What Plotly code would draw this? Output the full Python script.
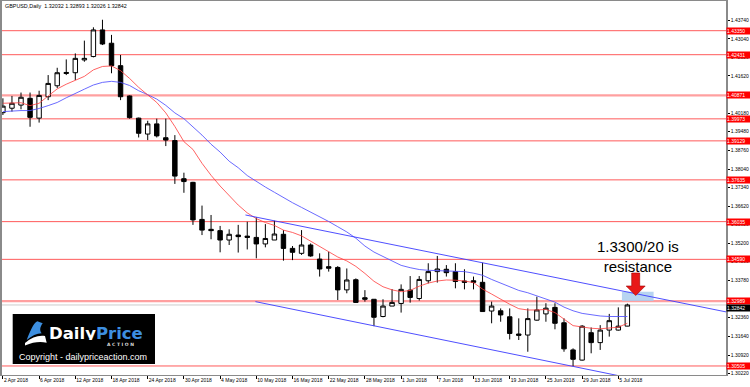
import plotly.graph_objects as go
import pandas as pd

# ---------------- data ----------------
dates = pd.bdate_range("2018-04-02", periods=70)
date_labels = [f"{d.day} {d.strftime('%b %Y')}" for d in dates]

opens = [1.4021, 1.4038, 1.4050, 1.4076, 1.4000, 1.4082, 1.4124, 1.4171, 1.4174, 1.4223,
         1.4236, 1.4338, 1.4287, 1.4201, 1.4085, 1.4000, 1.3939, 1.3978, 1.3925, 1.3914,
         1.3768, 1.3754, 1.3612, 1.3574, 1.3569, 1.3533, 1.3552, 1.3548, 1.3543, 1.3518,
         1.3533, 1.3555, 1.3501, 1.3482, 1.3514, 1.3460, 1.3431, 1.3428, 1.3342, 1.3381,
         1.3312, 1.3306, 1.3240, 1.3280, 1.3290, 1.3341, 1.3309, 1.3377, 1.3412, 1.3421,
         1.3412, 1.3376, 1.3377, 1.3371, 1.3261, 1.3262, 1.3239, 1.3173, 1.3169, 1.3226,
         1.3250, 1.3275, 1.3216, 1.3112, 1.3073, 1.3178, 1.3140, 1.3188, 1.3188, 1.32032]
highs = [1.4076, 1.4085, 1.4098, 1.4098, 1.4105, 1.4165, 1.4193, 1.4225, 1.4248, 1.4297,
         1.4348, 1.4377, 1.4319, 1.4242, 1.4087, 1.4002, 1.3990, 1.3998, 1.3998, 1.3935,
         1.3791, 1.3756, 1.3665, 1.3629, 1.3587, 1.3574, 1.3591, 1.3603, 1.3620, 1.3594,
         1.3607, 1.3571, 1.3510, 1.3571, 1.3520, 1.3482, 1.3488, 1.3433, 1.3424, 1.3386,
         1.3341, 1.3306, 1.3306, 1.3345, 1.3363, 1.3395, 1.3395, 1.3444, 1.3472, 1.3437,
         1.3444, 1.3421, 1.3393, 1.3446, 1.3297, 1.3271, 1.3271, 1.3233, 1.3271, 1.3316,
         1.3291, 1.3291, 1.3233, 1.3118, 1.3207, 1.3198, 1.3207, 1.3250, 1.3275, 1.32893]
lows = [1.4012, 1.4025, 1.4034, 1.3967, 1.3983, 1.4069, 1.4115, 1.4165, 1.4146, 1.4216,
        1.4233, 1.4280, 1.4172, 1.4069, 1.3998, 1.3926, 1.3916, 1.3926, 1.3893, 1.3748,
        1.3714, 1.3591, 1.3552, 1.3536, 1.3486, 1.3514, 1.3485, 1.3497, 1.3463, 1.3505,
        1.3533, 1.3454, 1.3456, 1.3476, 1.3469, 1.3393, 1.3412, 1.3303, 1.3329, 1.3292,
        1.3297, 1.3203, 1.3237, 1.3280, 1.3255, 1.3293, 1.3301, 1.3367, 1.3370, 1.3393,
        1.3348, 1.3344, 1.3344, 1.3259, 1.3214, 1.3220, 1.3152, 1.3150, 1.3105, 1.3224,
        1.3220, 1.3191, 1.3105, 1.3050, 1.3071, 1.3099, 1.3112, 1.3163, 1.3186, 1.32026]
closes = [1.4046, 1.4057, 1.4080, 1.4003, 1.4087, 1.4133, 1.4174, 1.4175, 1.4229, 1.4229,
          1.4338, 1.4284, 1.4201, 1.4082, 1.4002, 1.3942, 1.3978, 1.3932, 1.3916, 1.3778,
          1.3757, 1.3610, 1.3571, 1.3569, 1.3533, 1.3555, 1.3546, 1.3543, 1.3518, 1.3539,
          1.3556, 1.3501, 1.3486, 1.3514, 1.3472, 1.3422, 1.3425, 1.3342, 1.3380, 1.3294,
          1.3306, 1.3237, 1.3280, 1.3294, 1.3344, 1.3313, 1.3382, 1.3412, 1.3422, 1.3408,
          1.3374, 1.3371, 1.3371, 1.3259, 1.3280, 1.3246, 1.3175, 1.3168, 1.3232, 1.3265,
          1.3272, 1.3214, 1.3116, 1.3076, 1.3203, 1.3140, 1.3188, 1.3224, 1.3203, 1.32842]

ma_fast = [1.4057, 1.4059, 1.4059, 1.4048, 1.4057, 1.4085, 1.4112, 1.4130, 1.4145, 1.4160,
           1.4185, 1.4198, 1.4200, 1.4182, 1.4152, 1.4118, 1.4089, 1.4060, 1.4020, 1.3968,
           1.3910, 1.3880, 1.3827, 1.3781, 1.3740, 1.3702, 1.3667, 1.3637, 1.3615, 1.3600,
           1.3589, 1.3571, 1.3562, 1.3549, 1.3528, 1.3508, 1.3489, 1.3468, 1.3453, 1.3432,
           1.3405, 1.3375, 1.3354, 1.3342, 1.3335, 1.3340, 1.3356, 1.3368, 1.3376, 1.3380,
           1.3379, 1.3376, 1.3370, 1.3345, 1.3326, 1.3305, 1.3287, 1.3270, 1.3265, 1.3265,
           1.3267, 1.3255, 1.3230, 1.3205, 1.3200, 1.3195, 1.3193, 1.3195, 1.3199, 1.3214]
ma_slow = [1.4025, 1.4028, 1.4029, 1.4029, 1.4037, 1.4048, 1.4060, 1.4078, 1.4093, 1.4111,
           1.4127, 1.4137, 1.4141, 1.4137, 1.4125, 1.4105, 1.4090, 1.4073, 1.4049, 1.4020,
           1.3998, 1.3968, 1.3935, 1.3900, 1.3870, 1.3835, 1.3810, 1.3780, 1.3757, 1.3736,
           1.3716, 1.3695, 1.3676, 1.3658, 1.3640, 1.3624, 1.3604, 1.3584, 1.3564, 1.3540,
           1.3510, 1.3487, 1.3469, 1.3452, 1.3436, 1.3427, 1.3420, 1.3417, 1.3416, 1.3416,
           1.3415, 1.3412, 1.3406, 1.3398, 1.3382, 1.3367, 1.3352, 1.3340, 1.3331, 1.3318,
           1.3307, 1.3295, 1.3276, 1.3262, 1.3252, 1.3246, 1.3242, 1.3240, 1.3239, 1.3240]

levels = [1.43350, 1.42431, 1.40871, 1.39973, 1.39129, 1.37635, 1.36035, 1.34590, 1.32989, 1.30505]
levels_strong = [1.40871, 1.32989]
last_price = 1.32842

y_ticks = [1.43740, 1.43040, 1.42320, 1.41620, 1.40180, 1.39480, 1.38760, 1.38040,
           1.37340, 1.36620, 1.35920, 1.35200, 1.34500, 1.33780, 1.32360, 1.31640,
           1.30920, 1.30220]

channel_upper_x = [26.8, 80.0]
channel_upper_y = [1.3629, 1.3257]
channel_lower_x = [27.9, 68.5]
channel_lower_y = [1.3297, 1.3010]

zone_x = [68.4, 71.9]
zone_y = [1.3299, 1.3335]

title_text = "GBPUSD,Daily&nbsp; 1.32032 1.32893 1.32026 1.32842"
note_text = "1.3300/20 is<br>resistance"

# ---------------- geometry helpers ----------------
W, H = 750, 387
ML, MR, MT, MB = 2, 24, 1, 12
X_RANGE = [-0.1, 79.9]
Y_RANGE = [1.30159, 1.44488]
PW, PH = W - ML - MR, H - MT - MB


def dx(px):
    return X_RANGE[0] + (px - ML) / PW * (X_RANGE[1] - X_RANGE[0])


def dy(py):
    return Y_RANGE[1] - (py - MT) / PH * (Y_RANGE[1] - Y_RANGE[0])


def ppx(px):
    return (px - ML) / PW


def ppy(py):
    return 1 - (py - MT) / PH


idx = list(range(len(dates)))

fig = go.Figure()
fig.add_trace(go.Candlestick(
    x=idx, open=opens, high=highs, low=lows, close=closes,
    increasing=dict(line=dict(color="black", width=1), fillcolor="white"),
    decreasing=dict(line=dict(color="black", width=1), fillcolor="black"),
    whiskerwidth=0, hoverinfo="skip"))
fig.add_trace(go.Scatter(x=idx, y=ma_slow, mode="lines",
                         line=dict(color="rgba(80,80,255,0.85)", width=1), hoverinfo="skip"))
fig.add_trace(go.Scatter(x=idx, y=ma_fast, mode="lines",
                         line=dict(color="rgba(255,60,60,0.8)", width=1), hoverinfo="skip"))
fig.add_trace(go.Scatter(x=channel_upper_x, y=channel_upper_y, mode="lines",
                         line=dict(color="rgba(60,60,255,0.9)", width=1), hoverinfo="skip"))
fig.add_trace(go.Scatter(x=channel_lower_x, y=channel_lower_y, mode="lines",
                         line=dict(color="rgba(60,60,255,0.9)", width=1), hoverinfo="skip"))

shapes = []
# resistance zone
shapes.append(dict(type="rect", xref="x", yref="y", x0=zone_x[0], x1=zone_x[1],
                   y0=zone_y[0], y1=zone_y[1], fillcolor="rgba(170,205,238,0.85)",
                   line=dict(width=0), layer="below"))
# current price line
shapes.append(dict(type="line", xref="paper", yref="y", x0=0, x1=1, y0=last_price, y1=last_price,
                   line=dict(color="#cccccc", width=1), layer="below"))
for lv in levels:
    if lv in levels_strong:
        shapes.append(dict(type="line", xref="paper", yref="y", x0=0, x1=1, y0=lv, y1=lv,
                           line=dict(color="#ffa0a0", width=2.2), layer="below"))
    else:
        shapes.append(dict(type="line", xref="paper", yref="y", x0=0, x1=1, y0=lv, y1=lv,
                           line=dict(color="#ff5a5a", width=1), layer="below"))

# red arrow
ax_c = 635.7
arrow_pts = [(ax_c - 4, 273), (ax_c + 4, 273), (ax_c + 4, 286), (ax_c + 9.5, 286),
             (ax_c, 295.5), (ax_c - 9.5, 286), (ax_c - 4, 286)]
arrow_path = "M " + " L ".join(f"{dx(a)},{dy(b)}" for a, b in arrow_pts) + " Z"
shapes.append(dict(type="path", xref="x", yref="y", path=arrow_path,
                   fillcolor="#e81818", line=dict(color="#a00000", width=0.6), layer="above"))

# logo box
shapes.append(dict(type="rect", xref="paper", yref="paper", x0=ppx(12.7), x1=ppx(155),
                   y0=ppy(364), y1=ppy(314), fillcolor="black", line=dict(width=0), layer="above"))


def ppath(cmds):
    out = []
    for c in cmds:
        if isinstance(c, str):
            out.append(c)
        else:
            out.append(f"{ppx(c[0])},{ppy(c[1])}")
    return " ".join(out)


blue_icon = ppath(["M", (26.7, 340), "C", (30, 331.7), (33.3, 323.3), (37.3, 321.3), "L", (42.7, 323.3),
                   "C", (40, 326.7), (39.3, 330.7), (41.7, 333.3), "C", (36.7, 333.3), (31.7, 336),
                   (26.7, 340), "Z"])
white_icon = ppath(["M", (25, 343), "C", (31.7, 337.3), (38.3, 335), (45, 336), "L", (46.7, 342.7),
                    "C", (40, 341.3), (33.3, 342), (25, 345.5), "Z"])
shapes.append(dict(type="path", xref="paper", yref="paper", path=blue_icon,
                   fillcolor="#3d8fe0", line=dict(width=0), layer="above"))
shapes.append(dict(type="path", xref="paper", yref="paper", path=white_icon,
                   fillcolor="white", line=dict(width=0), layer="above"))

annotations = []
for lv in levels:
    annotations.append(dict(x=1, xref="paper", y=lv, yref="y", text=f"{lv:.5f}", showarrow=False,
                            xanchor="left", yanchor="middle", bgcolor="#ff0000", width=24, height=6,
                            borderpad=0, align="left",
                            font=dict(color="white", size=5, family="Liberation Sans")))
annotations.append(dict(x=1, xref="paper", y=last_price, yref="y", text=f"{last_price:.5f}",
                        showarrow=False, xanchor="left", yanchor="top", yshift=1, bgcolor="black",
                        width=24, height=6, borderpad=0, align="left",
                        font=dict(color="white", size=5, family="Liberation Sans")))
annotations.append(dict(x=ppx(3), xref="paper", y=ppy(6), yref="paper", text=title_text,
                        showarrow=False, xanchor="left", yanchor="middle",
                        font=dict(color="black", size=5.4, family="Liberation Sans")))
annotations.append(dict(x=dx(638), xref="x", y=dy(256), yref="y", text=note_text, showarrow=False,
                        xanchor="center", yanchor="middle", align="center",
                        font=dict(color="black", size=15, family="Liberation Sans")))
annotations.append(dict(x=ppx(96), xref="paper", y=ppy(333), yref="paper",
                        text="<b><span style='color:white'>Daily</span><span style='color:#3d8fe0'>Price</span></b>",
                        showarrow=False, xanchor="center", yanchor="middle", height=14,
                        font=dict(size=16.5, family="DejaVu Sans")))
annotations.append(dict(x=ppx(120), xref="paper", y=ppy(344.5), yref="paper", text="<b>A C T I O N</b>",
                        showarrow=False, xanchor="center", yanchor="middle",
                        font=dict(size=4.5, color="#dddddd", family="DejaVu Sans")))
annotations.append(dict(x=ppx(83), xref="paper", y=ppy(357), yref="paper",
                        text="Copyright - dailypriceaction.com", showarrow=False,
                        xanchor="center", yanchor="middle",
                        font=dict(size=9, color="white", family="Liberation Sans")))

x_tickvals = idx[::4]
x_ticktext = date_labels[::4]

fig.update_layout(
    width=W, height=H, margin=dict(l=ML, r=MR, t=MT, b=MB, pad=0),
    paper_bgcolor="white", plot_bgcolor="white", showlegend=False, hovermode=False,
    font=dict(family="Liberation Sans", size=5, color="black"),
    shapes=shapes, annotations=annotations,
    xaxis=dict(range=X_RANGE, rangeslider=dict(visible=False), showgrid=False, zeroline=False,
               tickvals=x_tickvals, ticktext=x_ticktext, ticks="outside", ticklen=3,
               tickcolor="black", tickwidth=1, ticklabelposition="outside right", tickangle=0,
               tickfont=dict(size=5, color="black"), showline=True, mirror=True,
               linecolor="#8a8a8a", linewidth=1),
    yaxis=dict(range=Y_RANGE, side="right", showgrid=False, zeroline=False,
               tickvals=y_ticks, ticktext=[f"{v:.5f}" for v in y_ticks], ticks="outside",
               ticklen=2, tickcolor="black", tickfont=dict(size=5, color="black"),
               showline=True, mirror=True, linecolor="#8a8a8a", linewidth=1.5),
)

fig.write_html("out.html")
